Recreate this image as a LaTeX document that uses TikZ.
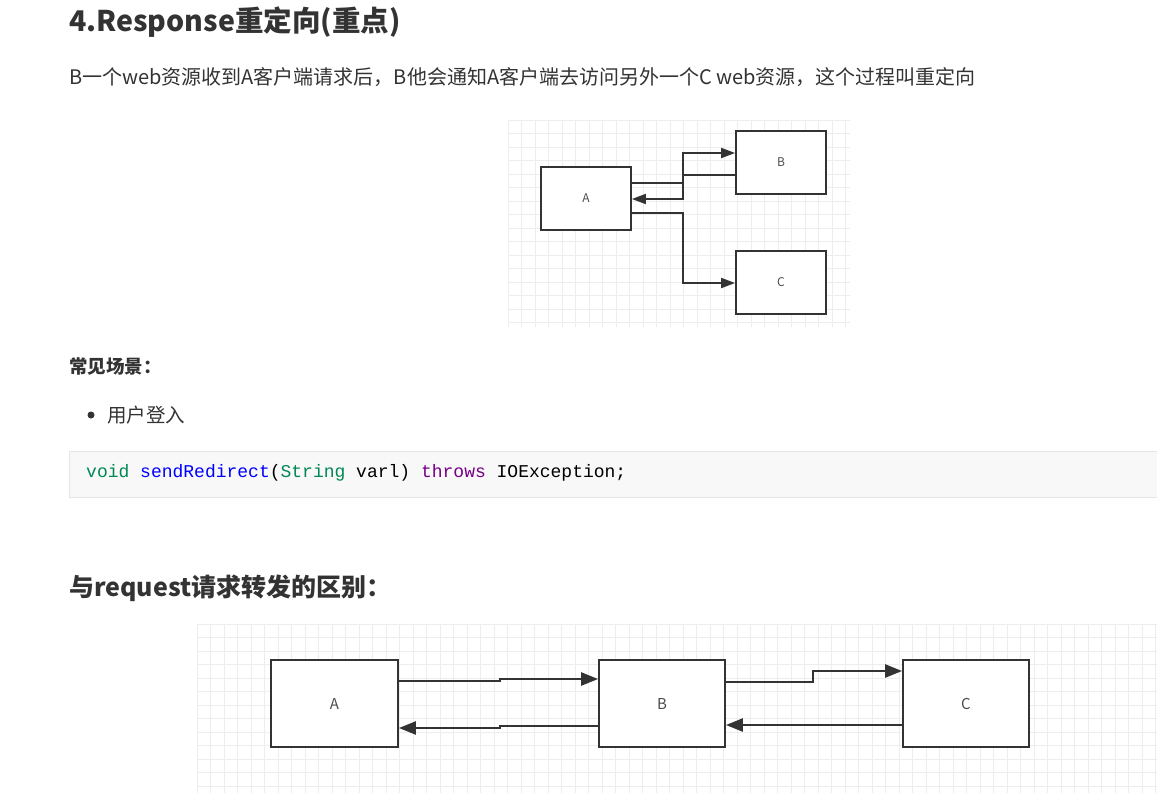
\documentclass[tikz,border=0pt]{standalone}
\usepackage{fontspec}
\setmainfont{Noto Sans CJK SC}
\newfontfamily\codefont{Liberation Mono}
\usetikzlibrary{arrows.meta}
\definecolor{txt}{HTML}{333333}
\definecolor{kwgreen}{HTML}{008855}
\definecolor{kwblue}{HTML}{0000FF}
\definecolor{kwpurple}{HTML}{770088}
\definecolor{codebg}{HTML}{F8F8F8}
\begin{document}
\begin{tikzpicture}[x=1pt,y=-1pt,
	box/.style={draw=black!80,line width=1.8pt,fill=white,inner sep=0,font=\fontsize{12}{12}\selectfont\color{black!70}},
	link/.style={draw=black!80,line width=2.4pt,-{Triangle[length=17pt,width=13pt]}},
	link1/.style={link,line width=1.9pt,-{Triangle[length=14pt,width=10pt]}},
	txtnode/.style={anchor=west,inner sep=0,text=txt}]
	\useasboundingbox (0,0) rectangle (1157,793);
	\fill[white] (0,0) rectangle (1157,793);

	\begin{scope} % texts
		\node[txtnode,font=\fontsize{28.5}{28.5}\selectfont\bfseries] (title) at (69,22) {4.Response重定向(重点)};
		\node[txtnode,font=\fontsize{20}{20}\selectfont] (intro) at (69,77) {B一个web资源收到A客户端请求后，B他会通知A客户端去访问另外一个C web资源，这个过程叫重定向};
		\node[txtnode,font=\fontsize{18.5}{18.5}\selectfont\bfseries] (scene) at (69,366) {常见场景：};
		\fill[txt] (91,415) circle (3.5);
		\node[txtnode,font=\fontsize{19.5}{19.5}\selectfont] (login) at (107,415) {用户登入};
		\draw[black!10,fill=codebg] (69.5,451) rectangle (1160,497);
		\node[txtnode,font=\fontsize{18}{18}\codefont] (code) at (86,473) {\textcolor{kwgreen}{void} \textcolor{kwblue}{sendRedirect}\textcolor{black}{(}\textcolor{kwgreen}{String} \textcolor{black}{varl) }\textcolor{kwpurple}{throws} \textcolor{black}{IOException;}};
		\node[txtnode,font=\fontsize{25}{25}\selectfont\bfseries] (diff) at (69,588) {与request请求转发的区别：};
	\end{scope}

	\begin{scope} % redirect diagram
		\foreach \x in {0,...,25}
			\draw[black!7] (508+\x*13.5,120) -- (508+\x*13.5,327);
		\foreach \y in {0,...,15}
			\draw[black!7] (508,120+\y*13.5) -- (850,120+\y*13.5);
		\node[box,minimum width=90,minimum height=63] (a1) at (586,198.5) {A};
		\node[box,minimum width=90,minimum height=63] (b1) at (781,162.5) {B};
		\node[box,minimum width=90,minimum height=63] (c1) at (781,282.5) {C};
		\draw[link1] (a1.east |- 0,183) -| (683,153) -- (b1.west |- 0,153);
		\draw[link1] (b1.west |- 0,175) -| (683,199) -- (a1.east |- 0,199);
		\draw[link1] (a1.east |- 0,213) -| (683,283) -- (c1.west |- 0,283);
	\end{scope}

	\begin{scope} % forward diagram
		\foreach \x in {0,...,71}
			\draw[black!7] (197+\x*13.5,624) -- (197+\x*13.5,793);
		\foreach \y in {0,...,12}
			\draw[black!7] (197,624+\y*13.5) -- (1157,624+\y*13.5);
		\node[box,font=\fontsize{15}{15}\selectfont\color{black!70},minimum width=127,minimum height=87] (a2) at (334.5,703.5) {A};
		\node[box,font=\fontsize{15}{15}\selectfont\color{black!70},minimum width=126,minimum height=87] (b2) at (662,703.5) {B};
		\node[box,font=\fontsize{15}{15}\selectfont\color{black!70},minimum width=126,minimum height=87] (c2) at (966,703.5) {C};
		\draw[link] (a2.east |- 0,681) -- (500,681) -- (500,679) -- (b2.west |- 0,679);
		\draw[link] (b2.west |- 0,726) -- (500,726) -- (500,728) -- (a2.east |- 0,728);
		\draw[link] (b2.east |- 0,682) -- (813,682) -- (813,671) -- (c2.west |- 0,671);
		\draw[link] (c2.west |- 0,725) -- (b2.east |- 0,725);
	\end{scope}
\end{tikzpicture}
\end{document}
